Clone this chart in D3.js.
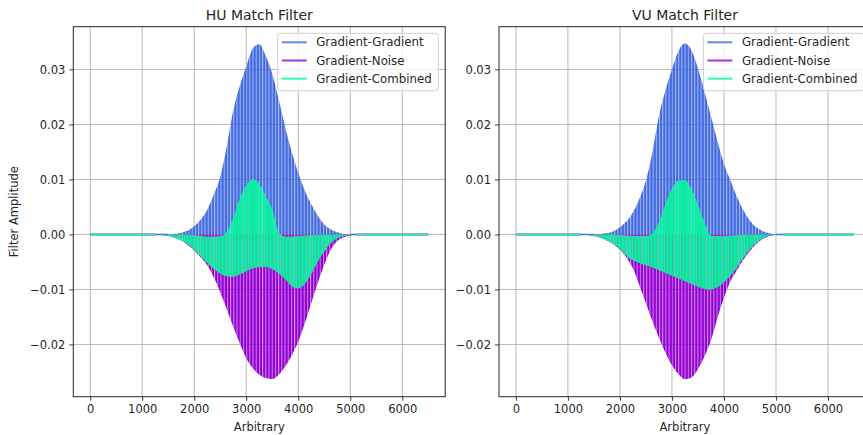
<!DOCTYPE html>
<html>
<head>
<meta charset="utf-8">
<script src="https://cdnjs.cloudflare.com/ajax/libs/d3/7.8.5/d3.min.js"></script>
<style>
    body { margin: 0; background: #fff; }
    text { font-family: "DejaVu Sans", sans-serif; fill: #262626; }
</style>
</head>
<body>
<div id="chart"></div>
<script>
/*
 * Envelope samples (x in arbitrary units)
 * Gradient-Gradient swings between 0 and its upper envelope,
 * Gradient-Noise between 0 and its lower envelope,
 * Gradient-Combined between its own lower and upper envelopes.
 */
var xKnots = [0, 1250, 1375, 1500, 1625, 1750, 1875, 2000, 2125, 2250, 2375, 2500,
    2625, 2750, 2875, 3000, 3125, 3250, 3375, 3500, 3625, 3750, 3875, 4000,
    4125, 4250, 4375, 4500, 4625, 4750, 4875, 5000, 5125, 5250, 6500];

// HU panel
var huGradGrad = [0, 0, 0, 0, 0.0001, 0.0003, 0.0007, 0.0015, 0.0027, 0.0045, 0.0072, 0.0105,
    0.0160, 0.0225, 0.0270, 0.0305, 0.0338, 0.0346, 0.0325, 0.0292, 0.0245, 0.0195, 0.0150, 0.0112,
    0.0080, 0.0055, 0.0034, 0.0018, 0.0009, 0.0004, 0.0001, 0, 0, 0, 0];
var huGradNoise = [0, 0, -0.0001, -0.0003, -0.0006, -0.0011, -0.0019, -0.0029, -0.0042, -0.0056, -0.0078, -0.0105,
    -0.0136, -0.0168, -0.0198, -0.0225, -0.0243, -0.0255, -0.0261, -0.0263, -0.0255, -0.0240, -0.0220, -0.0195,
    -0.0162, -0.0125, -0.0088, -0.0055, -0.0028, -0.0012, -0.0005, -0.0002, 0, 0, 0];
var huCombHi = [0, 0, 0, 0, 0, 0, 0, -0.0001, -0.0003, -0.0004, -0.0004, -0.0003,
    0.0005, 0.0030, 0.0065, 0.0090, 0.0101, 0.0092, 0.0070, 0.0046, 0.0004, -0.0004, -0.0004, -0.0003,
    -0.0002, -0.0001, 0, 0, 0, 0, 0, 0, 0, 0, 0];
var huCombLo = [0, 0, -0.0001, -0.0003, -0.0006, -0.0011, -0.0018, -0.0028, -0.0040, -0.0052, -0.0063, -0.0071,
    -0.0076, -0.0077, -0.0073, -0.0067, -0.0062, -0.0059, -0.0059, -0.0063, -0.0071, -0.0082, -0.0094, -0.0098,
    -0.0090, -0.0072, -0.0050, -0.0031, -0.0016, -0.0007, -0.0003, -0.0001, 0, 0, 0];

// VU panel
var vuGradGrad = [0, 0, 0, 0, 0.0001, 0.0002, 0.0006, 0.0013, 0.0024, 0.0040, 0.0065, 0.0098,
    0.0150, 0.0215, 0.0262, 0.0300, 0.0333, 0.0347, 0.0335, 0.0302, 0.0260, 0.0215, 0.0170, 0.0128,
    0.0098, 0.0068, 0.0044, 0.0025, 0.0013, 0.0006, 0.0002, 0, 0, 0, 0];
var vuGradNoise = [0, 0, -0.0001, -0.0003, -0.0006, -0.0011, -0.0018, -0.0028, -0.0042, -0.0062, -0.0093, -0.0125,
    -0.0158, -0.0188, -0.0215, -0.0238, -0.0254, -0.0263, -0.0260, -0.0245, -0.0222, -0.0193, -0.0152, -0.0115,
    -0.0085, -0.0065, -0.0046, -0.0030, -0.0017, -0.0008, -0.0003, -0.0001, 0, 0, 0];
var vuCombHi = [0, 0, 0, 0, 0, 0, 0, -0.0001, -0.0002, -0.0003, -0.0003, -0.0003,
    0.0002, 0.0022, 0.0055, 0.0083, 0.0098, 0.0099, 0.0082, 0.0054, 0.0022, -0.0002, -0.0003, -0.0003,
    -0.0002, -0.0001, 0, 0, 0, 0, 0, 0, 0, 0, 0];
var vuCombLo = [0, 0, -0.0001, -0.0003, -0.0006, -0.0011, -0.0017, -0.0027, -0.0039, -0.0047, -0.0052, -0.0056,
    -0.0060, -0.0065, -0.0070, -0.0075, -0.0080, -0.0085, -0.0090, -0.0095, -0.0099, -0.0100, -0.0096, -0.0087,
    -0.0075, -0.0060, -0.0043, -0.0027, -0.0015, -0.0007, -0.0002, -0.0001, 0, 0, 0];

var seriesNames = ["Gradient-Gradient", "Gradient-Noise", "Gradient-Combined"];
var seriesColors = ["#4169e1", "#9400d3", "#00fa9a"];
var xTicks = [0, 1000, 2000, 3000, 4000, 5000, 6000];
var yTicks = [-0.02, -0.01, 0, 0.01, 0.02, 0.03];

var W = 863, H = 435;
var plotW = 371.9, plotH = 370;

var svg = d3.select("#chart").append("svg")
    .attr("width", W)
    .attr("height", H);

svg.append("rect").attr("width", W).attr("height", H).attr("fill", "#fff");

// thin see-through stripes mimic the dense oscillation of the original lines
var defs = svg.append("defs");
var pat = defs.append("pattern")
    .attr("id", "stripes")
    .attr("patternUnits", "userSpaceOnUse")
    .attr("width", 3.2)
    .attr("height", 10);
pat.append("rect").attr("width", 3.2).attr("height", 10).attr("fill", "#fff");
pat.append("rect").attr("width", 1).attr("height", 10).attr("fill", "#6e6e6e");

defs.append("mask")
    .attr("id", "stripeMask")
    .attr("maskUnits", "userSpaceOnUse")
    .append("rect")
    .attr("x", 0).attr("y", 0)
    .attr("width", plotW).attr("height", plotH)
    .attr("fill", "url(#stripes)");

defs.append("clipPath")
    .attr("id", "plotClip")
    .append("rect")
    .attr("width", plotW)
    .attr("height", plotH);

function drawPanel(left, title, lows, highs, showYLabel) {
    var g = svg.append("g")
        .attr("transform", "translate(" + left + "," + 26.7 + ")");

    var x = d3.scaleLinear().domain([-325, 6825]).range([0, plotW]);
    var y = d3.scaleLinear().domain([-0.0295, 0.03777]).range([plotH, 0]);

    // grid
    g.selectAll(".vgrid").data(xTicks).enter().append("line")
        .attr("x1", function(d) { return x(d); })
        .attr("x2", function(d) { return x(d); })
        .attr("y1", 0).attr("y2", plotH)
        .attr("stroke", "#b0b0b0").attr("stroke-width", 0.9);
    g.selectAll(".hgrid").data(yTicks).enter().append("line")
        .attr("y1", function(d) { return y(d); })
        .attr("y2", function(d) { return y(d); })
        .attr("x1", 0).attr("x2", plotW)
        .attr("stroke", "#b0b0b0").attr("stroke-width", 0.9);

    var plot = g.append("g").attr("clip-path", "url(#plotClip)");

    seriesNames.forEach(function(name, s) {
        var lo = lows[s], hi = highs[s];
        function loAt(i) { return lo ? lo[i] : 0; }
        function hiAt(i) { return hi ? hi[i] : 0; }

        var area = d3.area()
            .x(function(d, i) { return x(xKnots[i]); })
            .y0(function(d, i) { return y(loAt(i)); })
            .y1(function(d, i) { return y(hiAt(i)); })
            .curve(d3.curveMonotoneX);

        // flat stretches where the signal sits at zero
        var flat = d3.line()
            .defined(function(d, i) { return loAt(i) === 0 && hiAt(i) === 0; })
            .x(function(d, i) { return x(xKnots[i]); })
            .y(function() { return y(0); });

        plot.append("path")
            .datum(xKnots)
            .attr("d", area)
            .attr("fill", seriesColors[s])
            .attr("mask", "url(#stripeMask)");

        plot.append("path")
            .datum(xKnots)
            .attr("d", flat)
            .attr("fill", "none")
            .attr("stroke", seriesColors[s])
            .attr("stroke-width", 1.6);
    });

    // axes
    var xAxis = d3.axisBottom(x).tickValues(xTicks).tickFormat(d3.format("d"))
        .tickSize(4).tickPadding(4);
    var yAxis = d3.axisLeft(y).tickValues(yTicks).tickFormat(d3.format(".2f"))
        .tickSize(4).tickPadding(4);

    var gx = g.append("g").attr("transform", "translate(0," + plotH + ")").call(xAxis);
    var gy = g.append("g").call(yAxis);
    [gx, gy].forEach(function(a) {
        a.select(".domain").remove();
        a.selectAll("line").attr("stroke", "#262626").attr("stroke-width", 0.9);
        a.selectAll("text").style("font-size", "11.5px").attr("fill", "#262626");
    });

    // frame
    g.append("rect")
        .attr("width", plotW).attr("height", plotH)
        .attr("fill", "none")
        .attr("stroke", "#262626")
        .attr("stroke-width", 1);

    g.append("text")
        .attr("x", plotW / 2).attr("y", -7)
        .attr("text-anchor", "middle")
        .style("font-size", "14px")
        .text(title);

    g.append("text")
        .attr("x", plotW / 2).attr("y", plotH + 34)
        .attr("text-anchor", "middle")
        .style("font-size", "11.5px")
        .text("Arbitrary");

    if (showYLabel) {
        g.append("text")
            .attr("transform", "translate(" + (-55) + "," + (plotH / 2) + ")rotate(-90)")
            .attr("text-anchor", "middle")
            .style("font-size", "11.5px")
            .text("Filter Amplitude");
    }

    // legend
    var lg = g.append("g")
        .attr("transform", "translate(" + (plotW - 6.9 - 160.6) + "," + 6.6 + ")");
    lg.append("rect")
        .attr("width", 160.6).attr("height", 57.4)
        .attr("rx", 3)
        .attr("fill", "#fff").attr("fill-opacity", 0.8)
        .attr("stroke", "#d0d0d0").attr("stroke-width", 1);
    seriesNames.forEach(function(name, s) {
        var yy = 9 + s * 18.2;
        lg.append("line")
            .attr("x1", 4).attr("x2", 29)
            .attr("y1", yy).attr("y2", yy)
            .attr("stroke", seriesColors[s])
            .attr("stroke-opacity", 0.8)
            .attr("stroke-width", 2);
        lg.append("text")
            .attr("x", 38.5).attr("y", yy + 4.2)
            .style("font-size", "11.8px")
            .text(name);
    });
}

drawPanel(73.3, "HU Match Filter",
    [null, huGradNoise, huCombLo], [huGradGrad, null, huCombHi], true);
drawPanel(499, "VU Match Filter",
    [null, vuGradNoise, vuCombLo], [vuGradGrad, null, vuCombHi], false);
</script>
</body>
</html>
